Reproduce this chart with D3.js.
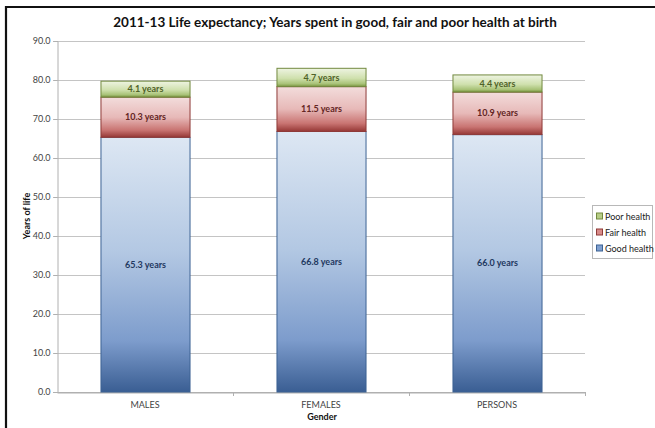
<!DOCTYPE html>
<html>
<head>
<meta charset="utf-8">
<script src="https://cdn.jsdelivr.net/npm/d3@7"></script>
<style>
  html, body { margin: 0; padding: 0; background: #fff; }
  svg { display: block; font-family: Lato, "Open Sans", sans-serif; }
</style>
</head>
<body>
<svg id="chart" width="655" height="428"></svg>
<script>
// Life expectancy split into years of good, fair and poor health
const categories = ["MALES", "FEMALES", "PERSONS"];
const goodHealth = [65.3, 66.8, 66.0];
const fairHealth = [10.3, 11.5, 10.9];
const poorHealth = [4.1, 4.7, 4.4];
const yTicks = [0, 10, 20, 30, 40, 50, 60, 70, 80, 90];
const seriesNames = ["Good health", "Fair health", "Poor health"];

const svg = d3.select("#chart");
const margin = { left: 57, right: 585, top: 41, bottom: 392 };

// Outer chart frame (top and left edges visible)
svg.append("line").attr("x1", 5).attr("x2", 655).attr("y1", 7).attr("y2", 7)
  .attr("stroke", "#111").attr("stroke-width", 2.2);
svg.append("line").attr("x1", 6).attr("x2", 6).attr("y1", 6).attr("y2", 428)
  .attr("stroke", "#111").attr("stroke-width", 2.2);

const x = d3.scaleBand().domain(categories)
  .range([margin.left, margin.right])
  .paddingInner(0.494).paddingOuter(0.247);
const y = d3.scaleLinear().domain([0, 90]).range([margin.bottom, margin.top]);

// Gradient definitions for each series
const defs = svg.append("defs");
const gradients = {
  "Good health": [[0, "#dde7f3"], [0.45, "#b3c8e3"], [0.8, "#7d9ccc"], [1, "#3a5e93"]],
  "Fair health": [[0, "#f3dddc"], [0.5, "#e7b9b8"], [0.82, "#c97472"], [1, "#953735"]],
  "Poor health": [[0, "#eef4e2"], [0.55, "#cfe0ad"], [0.85, "#a8c277"], [1, "#76923c"]]
};
const strokes = { "Good health": "#3d6394", "Fair health": "#8f3a38", "Poor health": "#72893f" };
const labelColors = { "Good health": "#1f3860", "Fair health": "#632523", "Poor health": "#4f6228" };
Object.entries(gradients).forEach(([name, stops], i) => {
  const g = defs.append("linearGradient").attr("id", "grad" + i)
    .attr("x1", 0).attr("x2", 0).attr("y1", 0).attr("y2", 1);
  stops.forEach(([o, c]) => g.append("stop").attr("offset", o).attr("stop-color", c));
});

// Gridlines
svg.append("g").selectAll("line").data(yTicks).join("line")
  .attr("x1", margin.left - 4).attr("x2", margin.right)
  .attr("y1", d => Math.round(y(d)) + 0.5).attr("y2", d => Math.round(y(d)) + 0.5)
  .attr("stroke", d => d === 0 ? "#b0b0b0" : "#c4c4c4").attr("stroke-width", 1);

// Y axis
const yAxis = svg.append("g").attr("transform", `translate(${margin.left + 0.5},0)`)
  .call(d3.axisLeft(y).tickValues(yTicks).tickFormat(d3.format(".1f")).tickSize(4).tickPadding(3));
yAxis.select(".domain").attr("stroke", "#b0b0b0");
yAxis.selectAll(".tick line").attr("stroke", "#b0b0b0");
yAxis.selectAll("text").attr("font-size", 9).attr("fill", "#444")
  .attr("font-family", "Lato, sans-serif");

// X axis
const xAxis = svg.append("g").attr("transform", `translate(0,${Math.round(margin.bottom) + 0.5})`)
  .call(d3.axisBottom(x).tickSize(0).tickPadding(9));
xAxis.select(".domain").attr("stroke", "#b0b0b0");
xAxis.selectAll("text").attr("font-size", 9).attr("fill", "#444")
  .attr("font-family", "Lato, sans-serif");
// category separator ticks
const step = x.step();
svg.append("g").selectAll("line").data(d3.range(1, categories.length + 1)).join("line")
  .attr("x1", d => Math.round(margin.left + d * step) + 0.5)
  .attr("x2", d => Math.round(margin.left + d * step) + 0.5)
  .attr("y1", margin.bottom).attr("y2", margin.bottom + 4)
  .attr("stroke", "#b0b0b0");

// Stack the series
const rows = categories.map((c, i) => ({
  cat: c, "Good health": goodHealth[i], "Fair health": fairHealth[i], "Poor health": poorHealth[i]
}));
const stacked = d3.stack().keys(seriesNames)(rows);

const layers = svg.append("g").selectAll("g").data(stacked).join("g");
layers.selectAll("rect").data(d => d.map(v => ({ v, key: d.key, idx: d.index }))).join("rect")
  .attr("x", d => x(d.v.data.cat) + 0.5)
  .attr("width", x.bandwidth())
  .attr("y", d => y(d.v[1]))
  .attr("height", d => y(d.v[0]) - y(d.v[1]))
  .attr("fill", d => `url(#grad${d.idx})`)
  .attr("stroke", d => strokes[d.key]).attr("stroke-width", 1);

layers.selectAll("text").data(d => d.map(v => ({ v, key: d.key }))).join("text")
  .attr("x", d => x(d.v.data.cat) + x.bandwidth() / 2 + 0.5)
  .attr("y", d => y((d.v[0] + d.v[1]) / 2))
  .attr("dy", "0.35em")
  .attr("text-anchor", "middle")
  .attr("font-size", 9).attr("font-weight", "bold")
  .attr("fill", d => labelColors[d.key])
  .text(d => d3.format(".1f")(d.v[1] - d.v[0]) + " years");

// Title
svg.append("text").attr("x", 335).attr("y", 27).attr("text-anchor", "middle")
  .attr("font-size", 13.5).attr("font-weight", "bold").attr("fill", "#111")
  .text("2011-13 Life expectancy; Years spent in good, fair and poor health at birth");

// Axis titles
svg.append("text").attr("transform", "translate(30,216) rotate(-90)")
  .attr("text-anchor", "middle").attr("font-size", 9).attr("font-weight", "bold").attr("fill", "#111")
  .text("Years of life");
svg.append("text").attr("x", (margin.left + margin.right) / 2 + 1).attr("y", 420)
  .attr("text-anchor", "middle").attr("font-size", 9).attr("font-weight", "bold").attr("fill", "#111")
  .text("Gender");

// Legend
const legend = svg.append("g").attr("transform", "translate(592.5,205.5)");
legend.append("rect").attr("width", 60).attr("height", 53)
  .attr("fill", "#fff").attr("stroke", "#b8b8b8");
const legendItems = seriesNames.slice().reverse();
const legendFill = { "Good health": "#7f9fcf", "Fair health": "#d88b89", "Poor health": "#b5cc85" };
const li = legend.selectAll("g.item").data(legendItems).join("g").attr("class", "item")
  .attr("transform", (d, i) => `translate(4,${11 + i * 16})`);
li.append("rect").attr("x", 0).attr("y", -3.5).attr("width", 6).attr("height", 6)
  .attr("fill", d => legendFill[d]).attr("stroke", d => strokes[d]);
li.append("text").attr("x", 8.5).attr("y", 0).attr("dy", "0.35em")
  .attr("font-size", 9).attr("fill", "#222").text(d => d);
</script>
</body>
</html>
